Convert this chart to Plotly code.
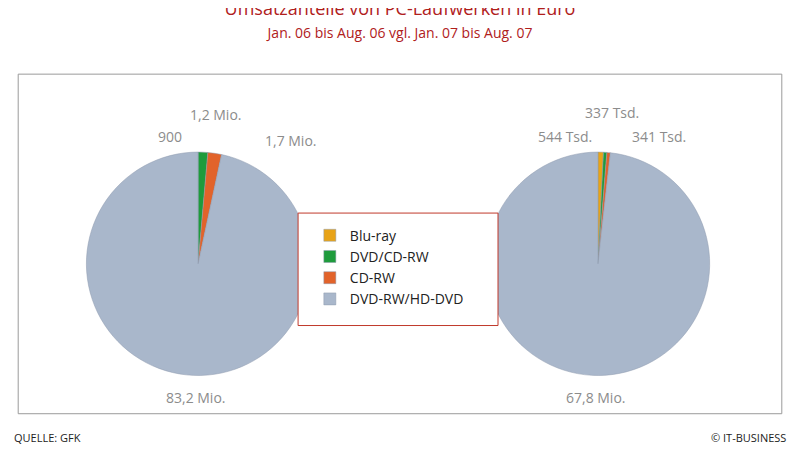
import plotly.graph_objects as go

categories = ["Blu-ray", "DVD/CD-RW", "CD-RW", "DVD-RW/HD-DVD"]
values_06 = [0.0009, 1.2, 1.7, 83.2]
values_07 = [0.544, 0.337, 0.341, 67.8]
labels_06 = ["900", "1,2 Mio.", "1,7 Mio.", "83,2 Mio."]
labels_07 = ["544 Tsd.", "337 Tsd.", "341 Tsd.", "67,8 Mio."]
colors = ["#E8A317", "#1E9B3C", "#E2632A", "#A9B7CB"]

fig = go.Figure()
for vals, dom in [(values_06, [0.1, 0.385]), (values_07, [0.61, 0.895])]:
    fig.add_trace(go.Pie(
        labels=categories, values=vals, sort=False, direction="clockwise",
        rotation=0, textinfo="none", hoverinfo="label+value",
        marker=dict(colors=colors, line=dict(color="#8E9AAE", width=0.5)),
        domain=dict(x=dom, y=[0.14, 0.70]), showlegend=(dom[0] < 0.5),
    ))

grey = "#8C8C8C"
ann = [
    (0.225, 0.735, labels_06[0], "right"), (0.265, 0.785, labels_06[1], "center"),
    (0.325, 0.725, labels_06[2], "left"), (0.24, 0.09, labels_06[3], "center"),
    (0.71, 0.735, labels_07[0], "center"), (0.77, 0.79, labels_07[1], "center"),
    (0.83, 0.735, labels_07[2], "center"), (0.75, 0.09, labels_07[3], "center"),
]
for x, y, t, a in ann:
    fig.add_annotation(x=x, y=y, xref="paper", yref="paper", text=t, showarrow=False,
                       xanchor=a, font=dict(size=14, color=grey))

fig.add_shape(type="rect", xref="paper", yref="paper", x0=0.013, x1=0.987, y0=0.08, y1=0.85,
              line=dict(color="#9A9A9A", width=1), layer="below")
fig.add_shape(type="rect", xref="paper", yref="paper", x0=0.37, x1=0.625, y0=0.28, y1=0.535,
              line=dict(color="#C0392B", width=1), fillcolor="white", layer="above")

fig.update_layout(
    width=784, height=441, margin=dict(l=0, r=0, t=0, b=0),
    paper_bgcolor="white", font=dict(family="Open Sans", color="#222"),
    title=dict(text="Umsatzanteile von PC-Laufwerken in Euro<br><span style='font-size:14px'>Jan. 06 bis Aug. 06 vgl. Jan. 07 bis Aug. 07</span>",
               x=0.5, y=0.985, yanchor="top", font=dict(size=18, color="#B0201C")),
    legend=dict(x=0.385, y=0.52, xanchor="left", yanchor="top", bgcolor="rgba(0,0,0,0)",
                font=dict(size=14, color="#222"), tracegroupgap=2),
)
fig.add_annotation(x=0.005, y=0.005, xref="paper", yref="paper", text="QUELLE: GFK", showarrow=False,
                   xanchor="left", yanchor="bottom", font=dict(size=11, color="#222"))
fig.add_annotation(x=0.995, y=0.005, xref="paper", yref="paper", text="© IT-BUSINESS", showarrow=False,
                   xanchor="right", yanchor="bottom", font=dict(size=11, color="#222"))

fig.write_html("out.html")
